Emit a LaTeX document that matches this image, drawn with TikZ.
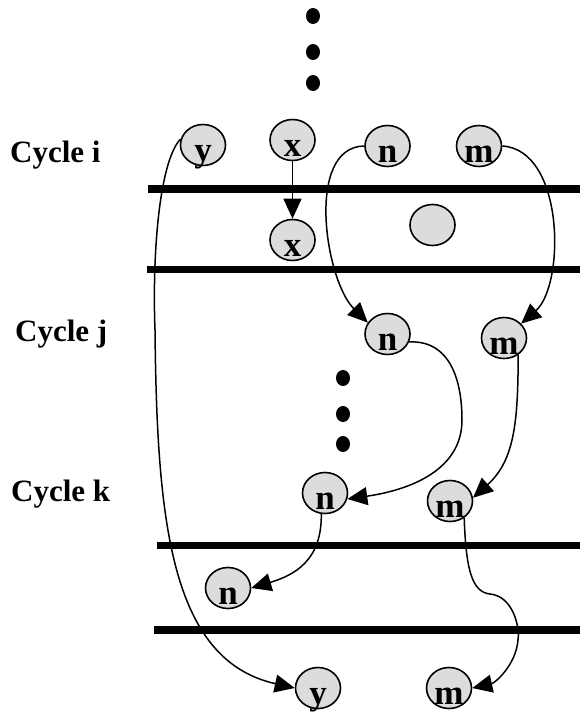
\documentclass[tikz,border=0pt]{standalone}
\usepackage{fontspec}
\setmainfont{Liberation Serif}
\usetikzlibrary{arrows.meta,shapes.geometric}
\definecolor{nodegray}{HTML}{DCDCDC}
% register letters sit low in their ellipse
\newcommand\reglet[1]{\raisebox{-2pt}{#1}}
\tikzset{
  reg/.style={ellipse, draw=black, line width=1.6pt, fill=nodegray,
    minimum width=45pt, minimum height=41pt, inner sep=0pt,
    text height=29pt, text depth=0pt,
    font=\bfseries\fontsize{35}{35}\selectfont},
  cyclelabel/.style={anchor=base west, inner sep=0pt,
    font=\bfseries\fontsize{31}{31}\selectfont},
  bar/.style={line width=7.5pt},
  flow/.style={line width=1.5pt, -{Triangle[length=20pt,width=18pt]}},
  dotnode/.style={ellipse, fill=black, draw=none, inner sep=0pt,
    minimum width=14pt, minimum height=16pt}
}
\begin{document}
\begin{tikzpicture}[x=1pt,y=-1pt]
\useasboundingbox (0,0) rectangle (584,713);

% continuation dots
\node[dotnode] (d1) at (313,16) {};
\node[dotnode] (d2) at (313,52) {};
\node[dotnode] (d3) at (313,83) {};
\node[dotnode] (d4) at (343,378) {};
\node[dotnode] (d5) at (343,414) {};
\node[dotnode] (d6) at (343,444) {};

% cycle labels
\node[cyclelabel] (ci) at (10,162) {Cycle i};
\node[cyclelabel] (cj) at (15,341) {Cycle j};
\node[cyclelabel] (ck) at (11,501) {Cycle k};

% pipeline register bars
\draw[bar] (148,189) -- (580,189);
\draw[bar] (147,269.5) -- (580,269.5);
\draw[bar] (157,545.5) -- (580,545.5);
\draw[bar] (154,630) -- (580,630);

% registers
\node[reg] (yt) at (203,145) {\reglet{y}};
\node[reg] (xt) at (292.5,140) {\reglet{x}};
\node[reg] (nt) at (387.5,146) {\reglet{n}};
\node[reg] (mt) at (479,146) {\reglet{m}};
\node[reg] (xb) at (292.5,240) {\reglet{x}};
\node[reg] (bl) at (432.5,225) {};
\node[reg] (nj) at (387.5,334) {\reglet{n}};
\node[reg] (mj) at (504,338) {\reglet{m}};
\node[reg] (nk) at (325,493) {\reglet{n}};
\node[reg] (mk) at (450,501) {\reglet{m}};
\node[reg] (nb) at (228,588) {\reglet{n}};
\node[reg] (yb) at (318,688) {\reglet{y}};
\node[reg] (mb) at (449,688) {\reglet{m}};

% data flow
\draw[flow] (xt) -- (xb);
\draw[flow] (yt.165) .. controls (160,160) and (152,250) .. (155,330)
  .. controls (157,520) and (170,660) .. (yb.west);
\draw[flow] (nt.west) .. controls (305,147) and (325,280) .. (nj.150);
\draw[flow] (mt.east) .. controls (565,150) and (565,285) .. (mj.40);
\draw[flow] (nj.-20) .. controls (455,340) and (462,390) .. (462,420)
  .. controls (462,470) and (410,490) .. (nk.-15);
\draw[flow] (mj.-50) .. controls (518,420) and (515,460) .. (mk.8);
\draw[flow] (nk.-100) .. controls (322,560) and (295,575) .. (nb.east);
\draw[flow] (mk.-50) .. controls (466,570) and (472,592) .. (490,594)
  .. controls (512,596) and (520,625) .. (518,640)
  .. controls (516,665) and (495,683) .. (mb.east);
\end{tikzpicture}
\end{document}
